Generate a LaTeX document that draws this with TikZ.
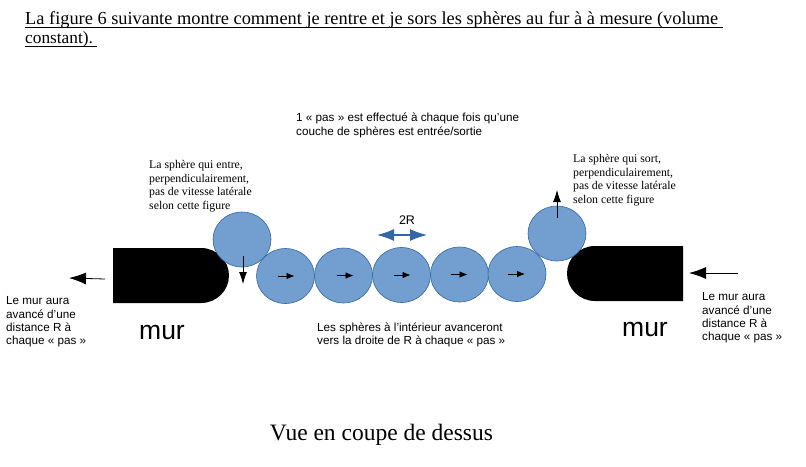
\documentclass[tikz,border=0pt]{standalone}
\usepackage{fontspec}
\setmainfont{Liberation Serif}
\setsansfont{Liberation Sans}
\usetikzlibrary{shapes.geometric,arrows.meta}
\definecolor{sphereblue}{HTML}{729FCF}
\definecolor{edgeblue}{HTML}{3465A4}
\newcommand{\souligne}[1]{\underline{\smash{#1}\rule[-1.6pt]{0pt}{1pt}}}
\tikzset{
    sphere/.style={ellipse,draw=edgeblue,fill=sphereblue,line width=0.6pt,minimum width=58pt,minimum height=55pt,inner sep=0pt},
    grande/.style={line width=0.8pt,-{Latex[length=17pt,width=12pt]}},
    fleche/.style={line width=0.8pt,-{Latex[length=12pt,width=8pt]}},
    petite/.style={line width=0.8pt,-{Latex[length=8pt,width=6.5pt]}},
    noteserif/.style={anchor=north west,inner sep=0pt,align=left,font=\fontsize{11.8}{13.4}\selectfont},
    notesans/.style={anchor=north west,inner sep=0pt,align=left,font=\sffamily\fontsize{11.7}{13.4}\selectfont},
    murlabel/.style={inner sep=0pt,font=\sffamily\fontsize{26.5}{28}\selectfont},
    titre/.style={anchor=base west,inner sep=0pt}
}
\begin{document}
\begin{tikzpicture}[x=1pt,y=-1pt]
    \useasboundingbox (0,0) rectangle (806,466);

    \node[titre,font=\fontsize{18.35}{21}\selectfont] (ligneA) at (25,24) {\souligne{La figure 6 suivante montre comment je rentre et je sors les sphères au fur à à mesure (volume\ }};
    \node[titre,font=\fontsize{17.3}{21}\selectfont] (ligneB) at (25,43.5) {\souligne{constant).\ }};

    \node[notesans] (pasnote) at (296,113) {1 « pas » est effectué à chaque fois qu’une\\couche de sphères est entrée/sortie};

    % les murs
    \fill (113,248) -- (201,248) arc[start angle=-90,end angle=90,x radius=28,y radius=27.5] -- (113,303) -- cycle;
    \fill (683,246) -- (595,246) arc[start angle=270,end angle=90,x radius=28,y radius=27.5] -- (683,301) -- cycle;
    \node[murlabel] (murA) at (162,332) {mur};
    \node[murlabel] (murB) at (645,329) {mur};

    % les spheres
    \node[sphere] (entree) at (242,239.5) {};
    \node[sphere] (sortie) at (557,233.5) {};
    \node[sphere] (s1) at (285.5,276) {};
    \node[sphere] (s2) at (343.5,275.5) {};
    \node[sphere] (s3) at (401.5,275) {};
    \node[sphere] (s4) at (459.5,274.5) {};
    \node[sphere] (s5) at (517,274) {};
    \foreach \s/\dx in {s1/0,s2/1,s3/0,s4/-1,s5/-1}{
        \coordinate (\s a) at ([xshift=-8pt+\dx pt]\s.center);
        \coordinate (\s b) at ([xshift=9pt+\dx pt]\s.center);
        \draw[petite] (\s a) -- (\s b);
    }

    % les fleches
    \coordinate (entreeA) at (243,256);
    \coordinate (entreeB) at (243,284);
    \draw[fleche] (entreeA) -- (entreeB);
    \coordinate (sortieA) at (557,218);
    \coordinate (sortieB) at (557,190);
    \draw[fleche] (sortieA) -- (sortieB);
    \coordinate (murAa) at (105,279);
    \coordinate (murAb) at (69,278);
    \draw[grande] (murAa) -- (murAb);
    \coordinate (murBa) at (738,273);
    \coordinate (murBb) at (689,273);
    \draw[grande] (murBa) -- (murBb);
    \coordinate (pasA) at (377,235);
    \coordinate (pasB) at (427,235);
    \draw[edgeblue,line width=1.2pt,{Latex[length=17pt,width=12pt]}-{Latex[length=17pt,width=12pt]}] (pasA) -- (pasB);
    \node[inner sep=0pt,font=\sffamily\fontsize{12.5}{14}\selectfont] (deuxR) at (407,220) {2R};

    % les textes
    \node[noteserif] (noteentre) at (149,160.5) {La sphère qui entre,\\perpendiculairement,\\pas de vitesse latérale\\selon cette figure};
    \node[noteserif] (notesort) at (573,154.5) {La sphère qui sort,\\perpendiculairement,\\pas de vitesse latérale\\selon cette figure};
    \node[notesans] (noteA) at (6,296.5) {Le mur aura\\avancé d’une\\distance R à\\chaque « pas »};
    \node[notesans] (noteB) at (702,292.5) {Le mur aura\\avancé d’une\\distance R à\\chaque « pas »};
    \node[notesans] (noteC) at (317,322.5) {Les sphères à l’intérieur avanceront\\vers la droite de R à chaque « pas »};
    \node[anchor=base,inner sep=0pt,font=\fontsize{23.5}{28}\selectfont] (vue) at (381.5,440) {Vue en coupe de dessus};
\end{tikzpicture}
\end{document}
